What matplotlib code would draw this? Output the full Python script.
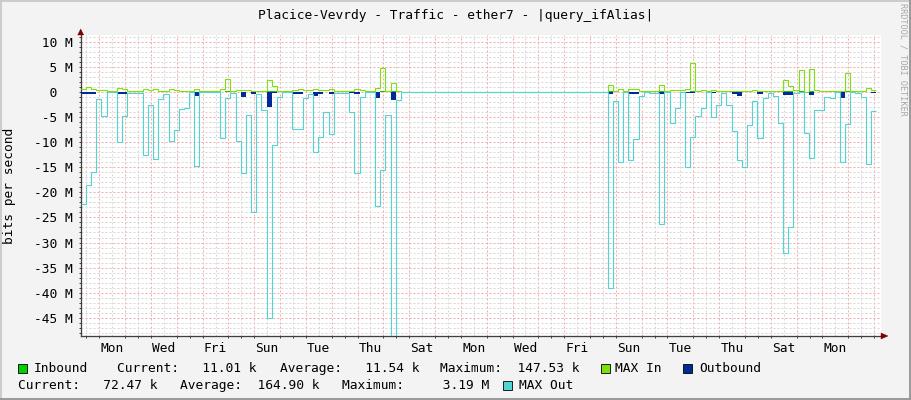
import numpy as np
import matplotlib.pyplot as plt
import matplotlib.patches as patches
from matplotlib.lines import Line2D

plt.rcParams['font.family'] = ['DejaVu Sans Mono']

W, H = 911, 400

# one value every 0.2 day (4.8 h), 31 days shown, values in Mbit/s
step_days = 0.2
first_monday = 0.72  # days from the left edge to the first Monday 00:00
day_labels = ['Mon', 'Wed', 'Fri', 'Sun', 'Tue', 'Thu', 'Sat', 'Mon',
              'Wed', 'Fri', 'Sun', 'Tue', 'Thu', 'Sat', 'Mon']
y_ticks = [10, 5, 0, -5, -10, -15, -20, -25, -30, -35, -40, -45]
y_tick_labels = [' 10 M', '  5 M', '  0  ', ' -5 M', '-10 M', '-15 M',
                 '-20 M', '-25 M', '-30 M', '-35 M', '-40 M', '-45 M']

inbound = ([0.03, 0.05, 0.04, 0.02, 0.02, 0.01, 0.01, 0.04, 0.03, 0.01,
            0.01, 0.01, 0.03, 0.02, 0.03, 0.01, 0.01, 0.03, 0.02, 0.01,
            0.01, 0.01, 0.03, 0.01, 0.01, 0.01, 0.01, 0.03, 0.15, 0.01,
            0.02, 0.02, 0.02, 0.01, 0.01, 0.01, 0.12, 0.06, 0.01, 0.01,
            0.01, 0.02, 0.03, 0.02, 0.02, 0.03, 0.02, 0.02, 0.03, 0.01,
            0.01, 0.01, 0.01, 0.03, 0.02, 0.01, 0.01, 0.04, 0.14, 0.01,
            0.08, 0.01]
           + [0.0] * 40
           + [0.07, 0.01, 0.03, 0.01, 0.03, 0.03, 0.01, 0.01, 0.01, 0.01,
              0.07, 0.01, 0.02, 0.02, 0.02, 0.03, 0.15, 0.01, 0.02, 0.01,
              0.02, 0.01, 0.01, 0.01, 0.01, 0.01, 0.01, 0.01, 0.02, 0.01,
              0.01, 0.01, 0.01, 0.01, 0.12, 0.06, 0.02, 0.13, 0.0, 0.13,
              0.02, 0.01, 0.01, 0.01, 0.01, 0.01, 0.11, 0.01, 0.01, 0.01,
              0.04, 0.02])

max_in = ([0.53, 0.93, 0.6, 0.4, 0.4, 0.2, 0.2, 0.73, 0.46, 0.13,
           0.13, 0.13, 0.53, 0.33, 0.53, 0.2, 0.2, 0.46, 0.33, 0.13,
           0.13, 0.13, 0.53, 0.2, 0.07, 0.07, 0.07, 0.53, 2.5, 0.2,
           0.4, 0.3, 0.3, 0.2, 0.2, 0.2, 2.4, 1.2, 0.2, 0.13,
           0.13, 0.4, 0.6, 0.27, 0.27, 0.6, 0.4, 0.27, 0.6, 0.2,
           0.2, 0.2, 0.2, 0.6, 0.4, 0.2, 0.2, 0.66, 4.7, 0.2,
           1.7, 0.2]
          + [0.0] * 40
          + [1.35, 0.2, 0.55, 0.15, 0.55, 0.55, 0.2, 0.07, 0.07, 0.07,
             1.35, 0.2, 0.3, 0.3, 0.3, 0.53, 5.7, 0.2, 0.3, 0.1,
             0.27, 0.13, 0.13, 0.13, 0.2, 0.2, 0.2, 0.2, 0.4, 0.13,
             0.13, 0.13, 0.13, 0.13, 2.3, 1.2, 0.45, 4.4, 0.0, 4.5,
             0.45, 0.25, 0.13, 0.13, 0.13, 0.13, 3.7, 0.07, 0.07, 0.07,
             0.73, 0.33])

outbound = ([-0.45, -0.45, -0.45, -0.08, -0.08, -0.08, -0.08, -0.35, -0.35, -0.08,
             -0.08, -0.08, -0.1, -0.08, -0.1, -0.08, -0.08, -0.1, -0.08, -0.08,
             -0.08, -0.08, -0.75, -0.08, -0.05, -0.05, -0.05, -0.1, -0.08, -0.08,
             -0.08, -0.95, -0.08, -0.35, -0.08, -0.08, -3.1, -0.15, -0.08, -0.08,
             -0.08, -0.5, -0.45, -0.08, -0.08, -0.93, -0.45, -0.08, -0.35, -0.08,
             -0.08, -0.08, -0.3, -0.35, -0.08, -0.08, -0.08, -1.33, -0.08, -0.08,
             -1.6, -0.08]
            + [0.0] * 40
            + [-0.45, -0.08, -0.1, -0.08, -0.5, -0.5, -0.08, -0.05, -0.05, -0.05,
               -0.5, -0.08, -0.1, -0.1, -0.08, -0.3, -0.3, -0.08, -0.08, -0.05,
               -0.2, -0.08, -0.08, -0.08, -0.45, -0.93, -0.08, -0.08, -0.1, -0.45,
               -0.08, -0.08, -0.08, -0.08, -0.65, -0.65, -0.08, -0.08, -0.05, -0.7,
               -0.08, -0.08, -0.08, -0.08, -0.05, -1.33, -0.08, -0.08, -0.08, -0.08,
               -0.1, -0.3])

max_out = ([-22.3, -18.5, -16.0, -1.45, -4.85, -0.1, -0.1, -10.0, -4.85, -0.3,
            -0.3, -0.3, -12.6, -2.65, -13.4, -1.45, -0.45, -9.8, -7.6, -3.45,
            -3.2, -0.1, -14.8, -0.1, -0.1, -0.1, -0.1, -9.2, -1.25, -0.3,
            -9.8, -16.2, -4.65, -24.0, -0.45, -3.6, -45.0, -10.6, -1.1, -0.1,
            -0.1, -7.5, -7.4, -1.3, -0.5, -12.0, -9.0, -4.05, -8.4, -0.3,
            -0.3, -0.3, -4.0, -16.2, -1.1, -0.1, -0.1, -22.7, -15.6, -4.7,
            -55.0, -1.6]
           + [0.0] * 40
           + [-39.1, -1.9, -14.0, -0.1, -13.5, -9.4, -0.8, -0.1, -0.3, -0.2,
              -26.3, -0.1, -6.2, -3.25, -0.1, -14.9, -8.9, -4.8, -3.3, -0.1,
              -5.05, -2.65, -0.3, -2.6, -7.75, -13.5, -15.0, -6.7, -1.9, -9.2,
              -1.25, -0.3, -0.9, -6.2, -32.1, -26.9, -0.3, -0.1, -8.2, -13.1,
              -3.7, -3.6, -1.1, -1.3, -0.1, -14.0, -6.5, -0.1, -0.3, -1.1,
              -14.4, -3.8])

title = 'Placice-Vevrdy - Traffic - ether7 - |query_ifAlias|'


def fx(x):
    return x / W


def fy(y):
    return 1 - y / H


px = 0.72  # one pixel in points
grid_gray = '#D7D7D7'
grid_red = '#F4AAAA'
axis_col = '#404040'
arrow_col = '#7F0000'

fig = plt.figure(figsize=(W / 100, H / 100), dpi=100, facecolor='#F3F3F3')
left, right, top, bottom = 80.7, 881.3, 35.0, 336.0
ax = fig.add_axes([fx(left), fy(bottom), (right - left) / W, (bottom - top) / H])
ax.set_facecolor('white')
ax.set_xlim(0, 31)
ax.set_ylim(-48.6, 11.3)

# grid: gray every 12 h / 1 M, red every day / 5 M
grid_x = []
for k in range(-1, 32):
    for off, col in [(0.0, grid_red), (0.5, grid_gray)]:
        d = first_monday + k + off
        if 0 < d < 31:
            grid_x.append(d)
            ax.axvline(d, color=col, lw=px, ls=(0, (2, 2)), zorder=0.5)
for v in range(-48, 12):
    col = grid_red if v % 5 == 0 else grid_gray
    ax.axhline(v, color=col, lw=px, ls=(0, (2, 2)), zorder=0.5)

# data
edges = np.arange(len(max_out) + 1) * step_days
ax.stairs(inbound, edges, baseline=0, fill=True, color='#00CF00', zorder=2)
ax.stairs(max_in, edges, baseline=None, color='#7FE00B', lw=0.8, zorder=3)
ax.stairs(outbound, edges, baseline=0, fill=True, color='#002A97', zorder=4)
ax.stairs(max_out, edges, baseline=None, color='#52D4D2', lw=0.8, zorder=5)

# axes
for s in ['top', 'right']:
    ax.spines[s].set_visible(False)
for s in ['left', 'bottom']:
    ax.spines[s].set_color(axis_col)
    ax.spines[s].set_linewidth(px * 1.3)

label_pos = [first_monday + 0.5 + 2 * k for k in range(len(day_labels))]
ax.set_xticks(label_pos, day_labels)
ax.set_xticks(grid_x, minor=True)
ax.tick_params(axis='x', which='major', length=0, pad=4.0, labelsize=9.3)
ax.tick_params(axis='x', which='minor', length=1.6, width=px, color=axis_col)
ax.set_yticks(y_ticks, y_tick_labels)
ax.set_yticks([v for v in range(-48, 12) if v % 5 != 0], minor=True)
ax.tick_params(axis='y', which='major', length=1.6, width=px, color=axis_col,
               pad=4.2, labelsize=9.3)
ax.tick_params(axis='y', which='minor', length=1.6, width=px, color=axis_col)

# arrows at the end of the axes
fig.add_artist(patches.Polygon([(fx(77.7), fy(35)), (fx(83.7), fy(35)), (fx(80.7), fy(29))],
                               closed=True, transform=fig.transFigure,
                               facecolor=arrow_col, edgecolor=arrow_col, lw=0.3))
fig.add_artist(patches.Polygon([(fx(881), fy(333)), (fx(881), fy(339)), (fx(888), fy(336))],
                               closed=True, transform=fig.transFigure,
                               facecolor=arrow_col, edgecolor=arrow_col, lw=0.3))

# texts
fig.text(fx(455.5), fy(19), title, ha='center', va='baseline', fontsize=9.3)
fig.text(fx(10), fy(186), 'bits per second', rotation=90, ha='center',
         va='center', fontsize=9.3)
fig.text(fx(903), fy(59), 'RRDTOOL / TOBI OETIKER', rotation=270, ha='center',
         va='center', fontsize=6.1, color='#A8A8A8')

# legend
legend_boxes = [(18, 363.5, '#00CF00'), (601, 363.5, '#7FE00B'),
                (683, 363.5, '#002A97'), (503, 380.5, '#52D4D2')]
for x0, y0, c in legend_boxes:
    fig.add_artist(patches.Rectangle((fx(x0), fy(y0 + 9)), 9 / W, 9 / H,
                                     transform=fig.transFigure, facecolor=c,
                                     edgecolor='#000000', lw=0.6))
legend_texts = [(34, 372, 'Inbound'),
                (117, 372, 'Current:   11.01 k'),
                (280, 372, 'Average:   11.54 k'),
                (440, 372, 'Maximum:  147.53 k'),
                (615, 372, 'MAX In'),
                (699, 372, 'Outbound'),
                (18, 389, 'Current:   72.47 k'),
                (180, 389, 'Average:  164.90 k'),
                (342, 389, 'Maximum:     3.19 M'),
                (519, 389, 'MAX Out')]
for x0, y0, s in legend_texts:
    fig.text(fx(x0), fy(y0), s, ha='left', va='baseline', fontsize=9.3)

# shaded frame of the canvas
fig.add_artist(Line2D([0, 1], [fy(0.5), fy(0.5)], transform=fig.transFigure, color='#CBCBCB', lw=1.4))
fig.add_artist(Line2D([fx(0.5), fx(0.5)], [0, 1], transform=fig.transFigure, color='#CBCBCB', lw=1.4))
fig.add_artist(Line2D([0, 1], [fy(399), fy(399)], transform=fig.transFigure, color='#999999', lw=1.4))
fig.add_artist(Line2D([fx(910), fx(910)], [0, 1], transform=fig.transFigure, color='#999999', lw=1.4))

fig.savefig('out.png', dpi=100, facecolor=fig.get_facecolor())
